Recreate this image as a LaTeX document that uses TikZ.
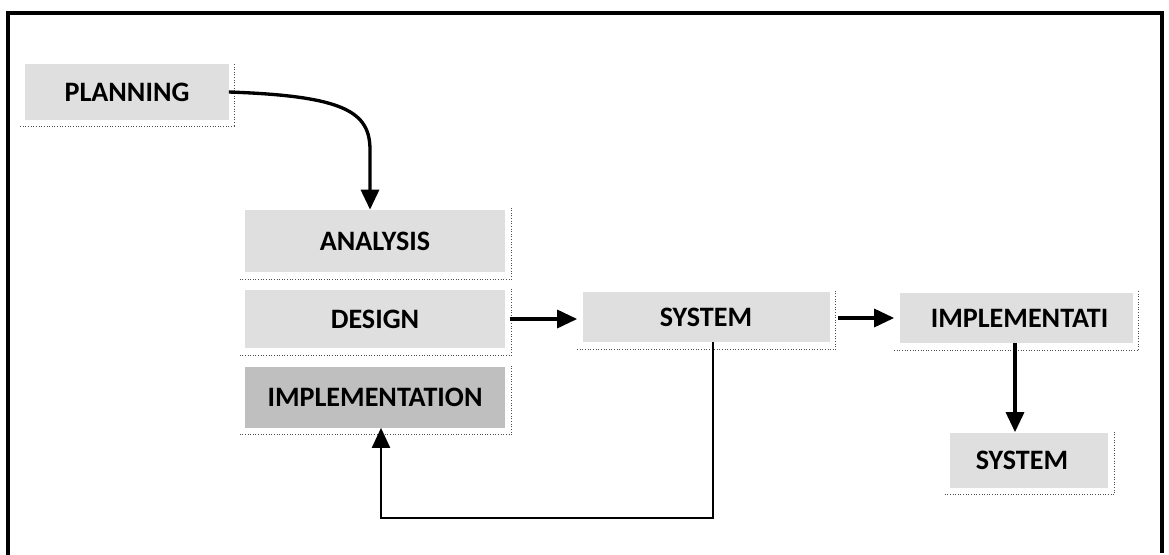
\documentclass[tikz,border=0pt]{standalone}
\usepackage{fontspec}
\newfontfamily\stagefont{Carlito}
\usetikzlibrary{arrows.meta,positioning,calc}
\tikzset{
  stage/.style={fill=gray!25, inner sep=0pt, font=\stagefont\bfseries\fontsize{16}{19}\selectfont},
  stagedark/.style={stage, fill=gray!50},
  shadowline/.style={black!70, densely dotted, line width=0.5pt},
  flow/.style={line width=1.9pt, -{Triangle[length=4mm,width=3.6mm]}},
  back/.style={line width=1.2pt, -{Triangle[length=4mm,width=3.6mm]}}
}

\begin{document}
\begin{tikzpicture}[x=0.2mm,y=-0.2mm]
    \useasboundingbox (0,0) rectangle (1169,555);

    % frame
    \draw[line width=2.3pt] (8,555) -- (8,13) -- (1162,13) -- (1162,553);

    % stages
    \node[stage, minimum width=40.6mm, minimum height=11mm] (plan) at (127,92) {PLANNING};
    \node[stage, minimum width=52mm, minimum height=12.4mm] (ana) at (375,241) {ANALYSIS};
    \node[stage, minimum width=52mm, minimum height=11.6mm] (des) at (375,319) {DESIGN};
    \node[stagedark, minimum width=52mm, minimum height=12.2mm] (imp) at (375,397) {IMPLEMENTATION};
    \node[stage, minimum width=49.4mm, minimum height=10mm] (sys) at (706,317) {SYSTEM};
    \node[stage, minimum width=46.6mm, minimum height=10mm] (impl) at (1016,318) {\hspace*{1.4mm}IMPLEMENTATI};
    \node[stage, minimum width=31.6mm, minimum height=11mm] (sysb) at (1029,460) {SYSTEM\hspace*{2.8mm}};

    % shadow edges
    \foreach \n in {plan,ana,des,imp,sys,impl,sysb}
      \draw[shadowline] ($(\n.south west)+(-5,7)$) -- ($(\n.south east)+(6,7)$) -- ($(\n.north east)+(6,-2)$);

    % connectors
    \draw[flow] (plan.east) .. controls (345,96) and (370,112) .. (370,150) -- ([xshift=-1mm]ana.north);
    \draw[flow] ([xshift=1mm]des.east) -- ([xshift=-1mm]des.east -| sys.west);
    \draw[flow] ([xshift=1.6mm]sys.east |- impl.west) -- ([xshift=-1mm]impl.west);
    \draw[flow] ([xshift=-0.2mm]impl.south) -- ([xshift=-0.2mm]impl.south |- sysb.north);
    \draw[back] ([xshift=1.4mm]sys.south) -- ++(0,176) -| ([xshift=1.2mm]imp.south);
\end{tikzpicture}
\end{document}
